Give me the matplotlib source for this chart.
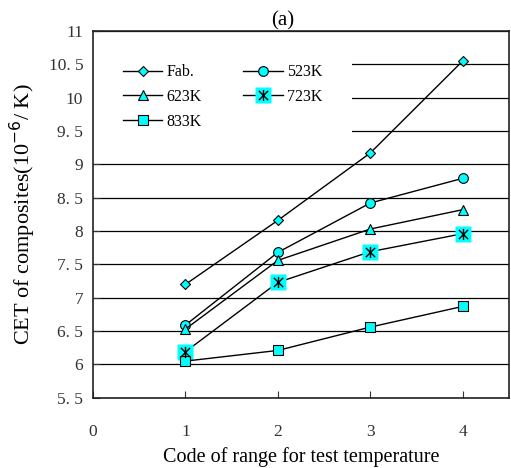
import numpy as np
import matplotlib
matplotlib.use("Agg")
import matplotlib.pyplot as plt
from matplotlib.path import Path

plt.rcParams['font.family'] = ['Liberation Serif', 'DejaVu Serif']

# test temperature range codes
codes = [1, 2, 3, 4]

# CET values (10^-6 / K)
cet_fab = [7.20, 8.16, 9.17, 10.55]
cet_523 = [6.59, 7.68, 8.42, 8.79]
cet_623 = [6.53, 7.56, 8.03, 8.32]
cet_723 = [6.19, 7.23, 7.69, 7.96]
cet_833 = [6.05, 6.21, 6.56, 6.87]

yticks = [5.5, 6, 6.5, 7, 7.5, 8, 8.5, 9, 9.5, 10, 10.5, 11]
ytick_labels = ["5. 5", "6", "6. 5", "7", "7. 5", "8", "8. 5", "9", "9. 5", "10", "10. 5", "11"]
xticks = [0, 1, 2, 3, 4]

cyan = "#00ffff"

# star marker like the excel one: X plus vertical bar
star = Path([(-1, -1), (1, 1), (-1, 1), (1, -1), (0, -1.2), (0, 1.2)],
            [Path.MOVETO, Path.LINETO, Path.MOVETO, Path.LINETO, Path.MOVETO, Path.LINETO])

fig = plt.figure(figsize=(5.11, 4.68), dpi=100)
ax = fig.add_axes([0.182, 0.150, 0.814, 0.784])

ax.plot(codes, cet_fab, color='black', lw=1, marker='D', ms=5.5, mfc=cyan, mec='black', mew=0.8, zorder=3)
ax.plot(codes, cet_523, color='black', lw=1, marker='o', ms=7, mfc=cyan, mec='black', mew=0.8, zorder=3)
ax.plot(codes, cet_623, color='black', lw=1, marker='^', ms=7, mfc=cyan, mec='black', mew=0.8, zorder=3)
ax.plot(codes, cet_723, color='black', lw=1, marker='s', ms=11, mfc=cyan, mec='none', zorder=3)
ax.plot(codes, cet_723, ls='none', marker=star, ms=8, mec='black', mew=1.0, zorder=4)
ax.plot(codes, cet_833, color='black', lw=1, marker='s', ms=6.5, mfc=cyan, mec='black', mew=0.8, zorder=3)

# legend proxies
h_fab, = ax.plot([], [], color='black', lw=1, marker='D', ms=5.5, mfc=cyan, mec='black', mew=0.8)
h_523, = ax.plot([], [], color='black', lw=1, marker='o', ms=7, mfc=cyan, mec='black', mew=0.8)
h_623, = ax.plot([], [], color='black', lw=1, marker='^', ms=7, mfc=cyan, mec='black', mew=0.8)
h_723a, = ax.plot([], [], color='black', lw=1, marker='s', ms=11, mfc=cyan, mec='none')
h_723b, = ax.plot([], [], ls='none', marker=star, ms=8, mec='black', mew=1.0)
h_833, = ax.plot([], [], color='black', lw=1, marker='s', ms=6.5, mfc=cyan, mec='black', mew=0.8)

leg = ax.legend([h_fab, h_623, h_833, h_523, (h_723a, h_723b)],
                ["Fab.", "623K", "833K", "523K", "723K"],
                ncol=2, loc='upper left', bbox_to_anchor=(0, 0.99), borderaxespad=0,
                frameon=True, facecolor='white', edgecolor='none', framealpha=1, fancybox=False,
                fontsize=11.5, handlelength=2.5, handletextpad=0.25, columnspacing=2.6,
                labelspacing=0.55, borderpad=1.85)
leg.set_zorder(2)

ax.set_xlim(0, 4.5)
ax.set_ylim(5.5, 11)
ax.set_xticks(xticks)
ax.set_yticks(yticks)
ax.set_yticklabels(ytick_labels)
ax.yaxis.grid(True, color='black', lw=0.9, zorder=0)
ax.set_axisbelow(True)
ax.tick_params(axis='both', direction='in', length=5, width=0.8, labelsize=12.5, colors='#333333')
ax.tick_params(axis='y', pad=7)
ax.tick_params(axis='x', pad=19)
for s in ax.spines.values():
    s.set_linewidth(1.2)
    s.set_color('#222222')

ax.set_xlabel("Code of range for test temperature", fontsize=14.5, labelpad=5)
ax.set_ylabel("CET of composites(10$^{-6}$/ K)", fontsize=16, labelpad=8)
ax.set_title("(a)", fontsize=15, pad=1, x=0.457)

fig.savefig("out.png", dpi=100)
